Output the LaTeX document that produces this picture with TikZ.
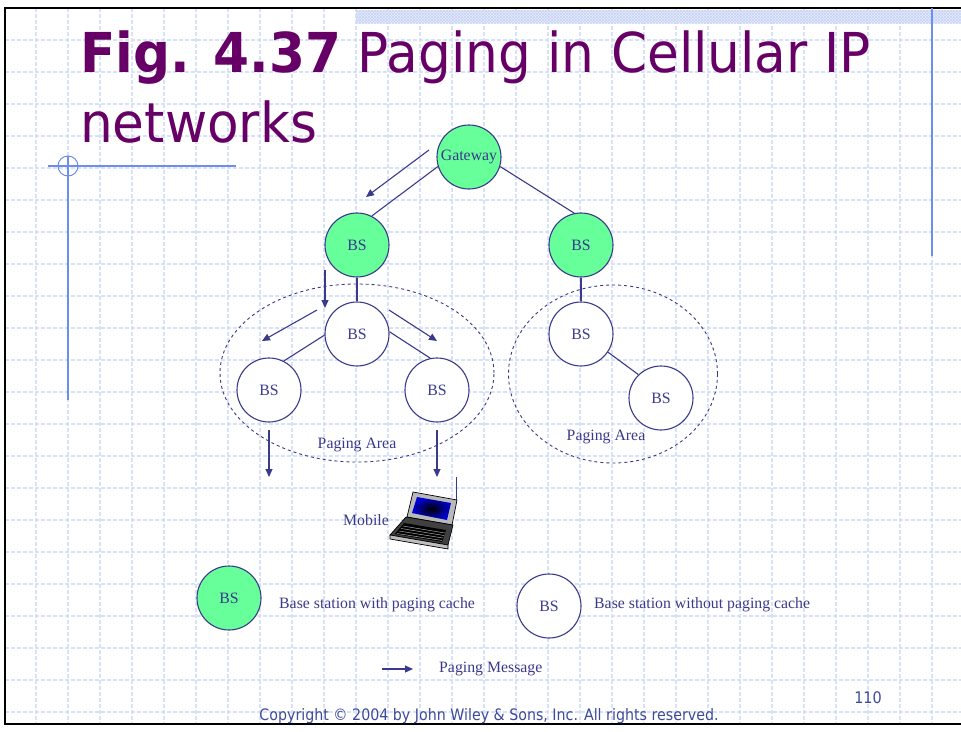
\documentclass[tikz,border=0pt]{standalone}
\usepackage{fontspec}
\setmainfont{Liberation Serif}
\newfontfamily\slidefont[FakeStretch=0.9]{DejaVu Sans}
\newfontfamily\titlefont[FakeStretch=0.94]{DejaVu Sans}
\usetikzlibrary{arrows.meta,shapes.geometric,patterns}

\definecolor{titlepurple}{HTML}{660066}
\definecolor{linkblue}{HTML}{3A3A8C}
\definecolor{footblue}{HTML}{3F4A9A}
\definecolor{cachegreen}{HTML}{66FF99}
\definecolor{gridblue}{HTML}{D8E1FA}
\definecolor{bandblue}{HTML}{C8D4F6}
\definecolor{bandpale}{HTML}{E4EAFB}
\definecolor{accentblue}{HTML}{6F8CF0}

\newcommand\diagfont{\fontsize{15.8}{18}\selectfont}

\tikzset{
  station/.style={circle, draw=linkblue, line width=1.1pt, minimum size=64pt,
    inner sep=0pt, text=linkblue, font=\diagfont},
  cached/.style={station, fill=cachegreen},
  plain/.style={station, fill=white},
  link/.style={draw=linkblue, line width=1.1pt},
  msg/.style={link, -{Triangle[length=8pt,width=7pt]}},
  area/.style={ellipse, draw=linkblue, dashed, line width=0.9pt, inner sep=0pt},
  label/.style={text=linkblue, font=\diagfont, inner sep=0pt},
  gridline/.style={gridblue, line width=1.2pt, dash pattern=on 4pt off 2pt},
}

\begin{document}
\begin{tikzpicture}[x=1pt, y=-1pt]

	\useasboundingbox (0,0) rectangle (961,731);
	\fill[white] (0,0) rectangle (961,731);

	% slide background
	\foreach \gx in {36,68,...,932}
		\draw[gridline] (\gx,8) -- (\gx,724);
	\foreach \gy in {40,72,...,712}
		\draw[gridline] (5,\gy) -- (961,\gy);
	\fill[bandpale] (356,10) rectangle (961,23);
	\fill[pattern=crosshatch, pattern color=bandblue] (356,10) rectangle (961,23);
	\draw[line width=2.5pt] (975,8) -- (5,8) -- (5,724) -- (975,724);

	\draw[accentblue, line width=2pt] (932,8) -- (932,256);
	\draw[accentblue, line width=1.2pt] (48,166) -- (236,166);
	\draw[accentblue, line width=2pt] (68,156) -- (68,400);
	\draw[accentblue, line width=1pt] (68,166) circle (10pt);

	% title
	\node[anchor=base west, inner sep=0pt, text=titlepurple, font=\titlefont\fontsize{55}{60}\selectfont] (title) at (80,72) {\textbf{Fig. 4.37} Paging in Cellular IP};
	\node[anchor=base west, inner sep=0pt, text=titlepurple, font=\titlefont\fontsize{55}{60}\selectfont] (title2) at (80,142) {networks};

	% paging areas
	\node[area, minimum width=274pt, minimum height=178pt] (pagea) at (357,373) {};
	\node[area, minimum width=209pt, minimum height=178pt] (pageb) at (613,374) {};
	\node[label] (pagealbl) at (357,445) {Paging Area};
	\node[label] (pageblbl) at (606,437) {Paging Area};

	% stations
	\node[cached] (gw) at (469,157) {Gateway};
	\node[cached] (bsa) at (357,245) {BS};
	\node[cached] (bsb) at (581,245) {BS};
	\node[plain] (bsm) at (357,334) {BS};
	\node[plain] (bsl) at (269,390) {BS};
	\node[plain] (bsr) at (437,390) {BS};
	\node[plain] (bsu) at (581,334) {BS};
	\node[plain] (bsd) at (661,398) {BS};

	\draw[link] (gw.197) -- (bsa.63);
	\draw[link] (gw.343) -- (bsb.102);
	\draw[link] (bsa) -- (bsm);
	\draw[link] (bsm.182) -- (bsl.63);
	\draw[link] (bsm.4) -- (bsr.102);
	\draw[link] (bsb) -- (bsu);
	\draw[link] (bsu.-34) -- (bsd.134);

	% paging messages
	\coordinate (m1s) at (429,150); \coordinate (m1e) at (366,197);
	\coordinate (m2s) at (325,270); \coordinate (m2e) at (325,308);
	\coordinate (m3s) at (317,310); \coordinate (m3e) at (262,341);
	\coordinate (m4s) at (389,310); \coordinate (m4e) at (437,341);
	\coordinate (m5s) at (269,430); \coordinate (m5e) at (269,477);
	\coordinate (m6s) at (437,430); \coordinate (m6e) at (437,477);
	\foreach \m in {1,...,6}
		\draw[msg] (m\m s) -- (m\m e);

	% mobile
	\draw[linkblue, line width=1pt] (456,477) -- (456,502);
	\filldraw[fill=gray!55, draw=black, line width=0.7pt] (413,492) -- (457,500) -- (452,525) -- (407,517) -- cycle;
	\shade[inner color=black, outer color=blue!85!black] (417,497) -- (451,503) -- (447,520) -- (412,513) -- cycle;
	\filldraw[fill=black!75, draw=black, line width=0.7pt] (406,517) -- (453,525) -- (448,545) -- (390,535) -- cycle;
	\fill[black] (404,523) -- (446,530) -- (442,542) -- (395,534) -- cycle;
	\foreach \k in {0,...,3}
		\draw[gray!70, line width=0.5pt] (403-2*\k,526+2.5*\k) -- (445-1*\k,533+2.5*\k);
	\filldraw[fill=gray!50, draw=black, line width=0.7pt] (390,535) -- (448,545) -- (448,549) -- (390,539) -- cycle;
	\node[label, anchor=east] (mobilelbl) at (389,520) {Mobile};

	% legend
	\node[cached] (keycached) at (229,598) {BS};
	\node[label, anchor=west] (keycachedlbl) at (279,605) {Base station with paging cache};
	\node[plain] (keyplain) at (549,606) {BS};
	\node[label, anchor=west] (keyplainlbl) at (594,605) {Base station without paging cache};
	\coordinate (keys) at (382,669);
	\coordinate (keye) at (413,669);
	\draw[msg] (keys) -- (keye);
	\node[label, anchor=west] (keymsglbl) at (439,669) {Paging Message};

	% footer
	\node[anchor=base, inner sep=0pt, text=footblue, font=\slidefont\fontsize{15.8}{18}\selectfont] (copyright) at (489,720) {Copyright © 2004 by John Wiley \& Sons, Inc. All rights reserved.};
	\node[anchor=base, inner sep=0pt, text=footblue, font=\slidefont\fontsize{16}{18}\selectfont] (pagenum) at (868,703) {110};

\end{tikzpicture}
\end{document}
